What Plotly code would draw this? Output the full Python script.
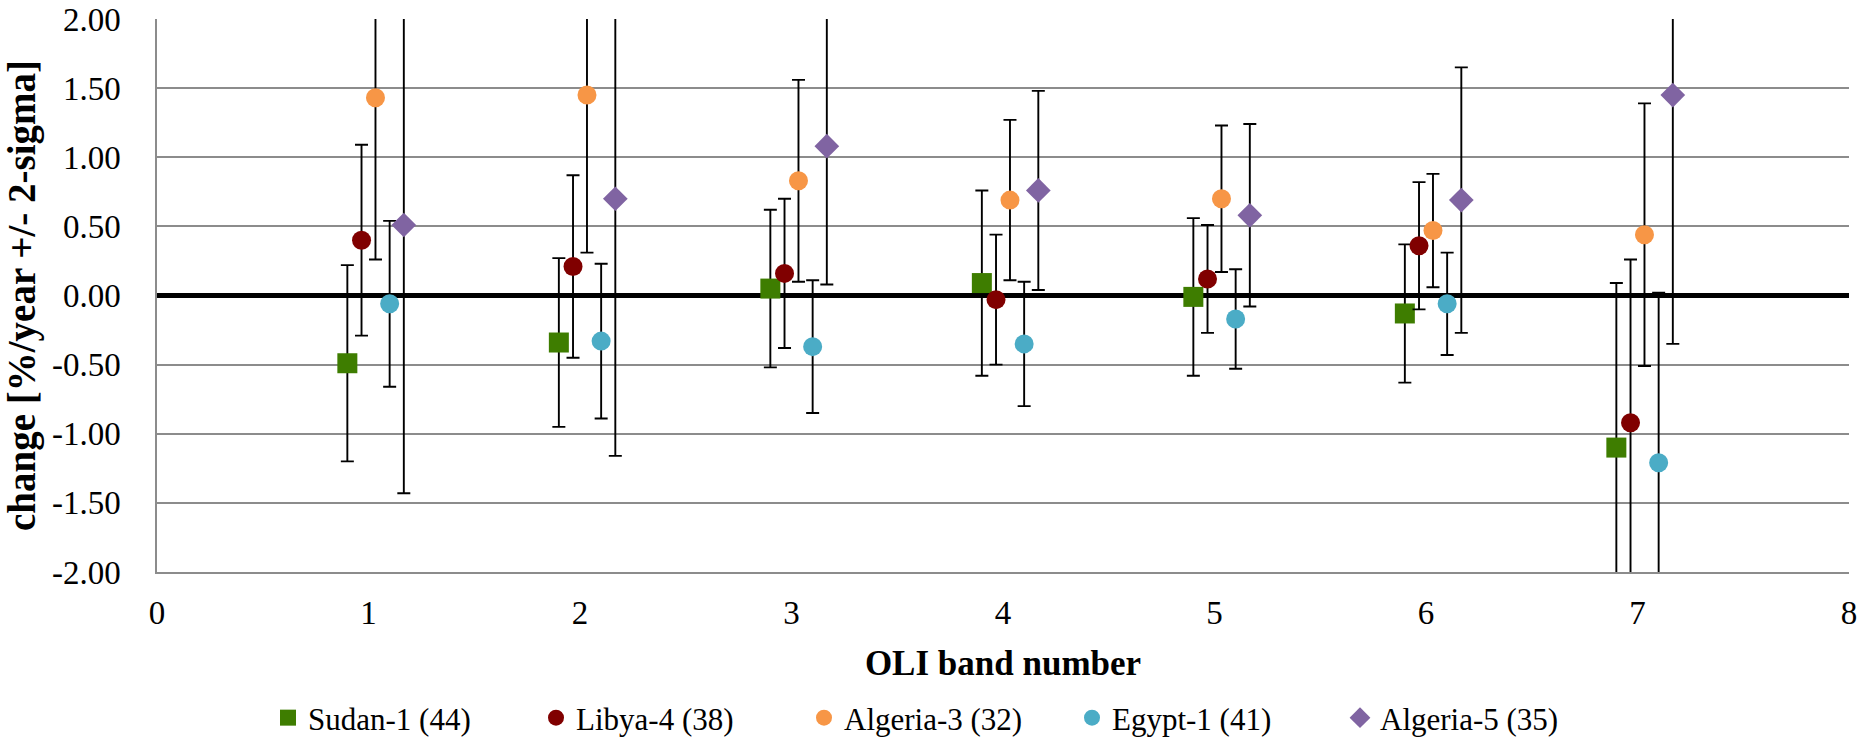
import plotly.graph_objects as go

# ---------------- data ----------------
bands = [1, 2, 3, 4, 5, 6, 7]
series_names = ["Sudan-1 (44)", "Libya-4 (38)", "Algeria-3 (32)", "Egypt-1 (41)", "Algeria-5 (35)"]
band_offsets = [-0.1, -0.033, 0.033, 0.1, 0.167]

sudan_1 = [-0.49, -0.34, 0.05, 0.09, -0.01, -0.13, -1.10]
sudan_1_err = [0.71, 0.61, 0.57, 0.67, 0.57, 0.50, 1.19]
libya_4 = [0.40, 0.21, 0.16, -0.03, 0.12, 0.36, -0.92]
libya_4_err = [0.69, 0.66, 0.54, 0.47, 0.39, 0.46, 1.18]
algeria_3 = [1.43, 1.45, 0.83, 0.69, 0.70, 0.47, 0.44]
algeria_3_err = [1.17, 1.14, 0.73, 0.58, 0.53, 0.41, 0.95]
egypt_1 = [-0.06, -0.33, -0.37, -0.35, -0.17, -0.06, -1.21]
egypt_1_err = [0.60, 0.56, 0.48, 0.45, 0.36, 0.37, 1.23]
algeria_5 = [0.51, 0.70, 1.08, 0.76, 0.58, 0.69, 1.45]
algeria_5_err = [1.94, 1.86, 1.00, 0.72, 0.66, 0.96, 1.80]

y_tickvals = [2.0, 1.5, 1.0, 0.5, 0.0, -0.5, -1.0, -1.5, -2.0]
y_ticktext = ["2.00", "1.50", "1.00", "0.50", "0.00", "-0.50", "-1.00", "-1.50", "-2.00"]
x_tickvals = [0, 1, 2, 3, 4, 5, 6, 7, 8]

x_title = "OLI band number"
y_title = "change [%/year +/- 2-sigma]"

# ---------------- styles ----------------
values = [sudan_1, libya_4, algeria_3, egypt_1, algeria_5]
errors = [sudan_1_err, libya_4_err, algeria_3_err, egypt_1_err, algeria_5_err]
colors = ["#3E7D00", "#800000", "#F79646", "#4BACC6", "#8064A2"]
symbols = ["square", "circle", "circle", "circle", "diamond"]
sizes = [20, 19, 19, 19, 19]

FONT = "Liberation Serif"

fig = go.Figure()
for name, vals, errs, off, col, sym, sz in zip(series_names, values, errors, band_offsets, colors, symbols, sizes):
    fig.add_trace(go.Scatter(
        x=[b + off for b in bands],
        y=vals,
        mode="markers",
        name=name,
        marker=dict(color=col, symbol=sym, size=sz, line=dict(width=0)),
        error_y=dict(type="data", array=errs, visible=True, color="black",
                     thickness=1.9, width=6.5),
    ))

fig.update_layout(
    width=1864, height=741,
    margin=dict(l=157, r=15, t=19, b=169, autoexpand=False),
    paper_bgcolor="white", plot_bgcolor="white",
    font=dict(family=FONT, color="black", size=30),
    showlegend=True,
    legend=dict(
        orientation="h",
        xref="container", yref="container",
        x=268 / 1864, xanchor="left",
        y=(741 - 718) / 741, yanchor="middle",
        entrywidth=223, entrywidthmode="pixels",
        font=dict(family=FONT, size=31, color="black"),
        bgcolor="rgba(0,0,0,0)", borderwidth=0,
        itemsizing="trace",
    ),
    xaxis=dict(
        range=[0, 8], tickvals=x_tickvals, ticks="",
        showgrid=False, zeroline=False, automargin=False,
        showline=True, linecolor="#8C8C8C", linewidth=1.5,
        tickfont=dict(family=FONT, size=33, color="black"),
        ticklabelstandoff=11,
        title=dict(text=x_title, font=dict(family=FONT, size=35, color="black", weight="bold"),
                   standoff=20),
    ),
    yaxis=dict(
        range=[-2, 2], tickvals=y_tickvals, ticktext=y_ticktext, ticks="",
        showgrid=True, gridcolor="#8C8C8C", gridwidth=1.5,
        zeroline=True, zerolinecolor="black", zerolinewidth=4.5, automargin=False,
        showline=True, linecolor="#8C8C8C", linewidth=1.5,
        tickfont=dict(family=FONT, size=33, color="black"),
        ticklabelstandoff=28,
        title=dict(text=y_title, font=dict(family=FONT, size=39, color="black", weight="bold"),
                   standoff=8),
    ),
)

fig.write_html("out.html")
